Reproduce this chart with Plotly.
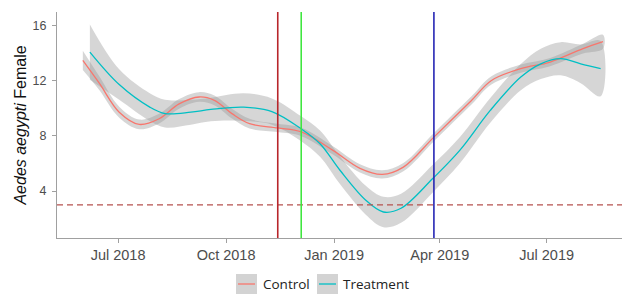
import plotly.graph_objects as go

# Control smooth curve
control_dates = ["2018-06-01", "2018-06-15", "2018-07-02", "2018-07-19", "2018-08-05",
                 "2018-08-22", "2018-09-08", "2018-09-21", "2018-10-06", "2018-10-21",
                 "2018-11-14", "2018-12-04", "2018-12-31", "2019-01-23", "2019-02-11",
                 "2019-03-01", "2019-03-27", "2019-04-28", "2019-05-15", "2019-06-09",
                 "2019-07-04", "2019-08-01", "2019-08-18"]
control_mean = [13.45, 11.8, 9.7, 8.82, 9.23, 10.3, 10.8, 10.56, 9.6, 8.87,
                8.56, 8.27, 6.94, 5.64, 5.2, 5.73, 7.9, 10.55, 12.0, 12.85,
                13.33, 14.3, 14.8]
control_se = [0.7, 0.5, 0.4, 0.35, 0.35, 0.35, 0.35, 0.35, 0.35, 0.35,
              0.3, 0.3, 0.3, 0.3, 0.3, 0.3, 0.3, 0.3, 0.3, 0.3,
              0.3, 0.35, 0.5]

# Treatment smooth curve
treatment_dates = ["2018-06-07", "2018-07-02", "2018-07-28", "2018-08-10", "2018-09-01",
                   "2018-09-18", "2018-10-16", "2018-11-09", "2018-12-04", "2018-12-20",
                   "2019-01-06", "2019-01-28", "2019-02-12", "2019-02-27", "2019-03-26",
                   "2019-04-18", "2019-05-14", "2019-06-09", "2019-06-26", "2019-07-13",
                   "2019-07-30", "2019-08-16"]
treatment_mean = [14.05, 11.7, 10.07, 9.6, 9.7, 9.9, 10.07, 9.75, 8.5, 7.42,
                  5.5, 3.33, 2.48, 2.75, 4.9, 6.94, 9.83, 12.24, 13.2, 13.57,
                  13.2, 12.85]
treatment_se = [2.0, 1.1, 1.0, 1.0, 0.9, 0.85, 1.0, 0.95, 0.9, 0.95,
                1.0, 1.05, 1.1, 1.05, 1.0, 0.95, 0.9, 0.95, 1.1, 1.2,
                1.4, 2.0]

threshold = 3
event_dates = ["2018-11-14", "2018-12-04", "2019-03-27"]
event_colors = ["#B8262B", "#3FE63F", "#2626B4"]

x_ticks = ["2018-07-01", "2018-10-01", "2019-01-01", "2019-04-01", "2019-07-01"]
x_tick_labels = ["Jul 2018", "Oct 2018", "Jan 2019", "Apr 2019", "Jul 2019"]
y_ticks = [4, 8, 12, 16]

series = [
    ("Control", control_dates, control_mean, control_se, "#F8766D"),
    ("Treatment", treatment_dates, treatment_mean, treatment_se, "#00BFC4"),
]

fig = go.Figure()
for name, d, m, s, c in series:
    upper = [a + b for a, b in zip(m, s)]
    lower = [a - b for a, b in zip(m, s)]
    fig.add_trace(go.Scatter(
        x=d + d[::-1], y=upper + lower[::-1], fill="toself",
        fillcolor="rgba(153,153,153,0.4)", line=dict(width=0, shape="spline"),
        mode="lines", hoverinfo="skip", showlegend=False))
for name, d, m, s, c in series:
    fig.add_trace(go.Scatter(
        x=d, y=m, mode="lines", name=name,
        line=dict(color=c, width=1.3, shape="spline"), showlegend=False))

fig.add_hline(y=threshold, line=dict(color="#B5524F", width=1.2, dash="6px,4px"))
for d, c in zip(event_dates, event_colors):
    fig.add_vline(x=d, line=dict(color=c, width=1.6))

# page offset (default body margin of the html page)
OFF = 8
W, H = 630 - OFF, 294 - OFF
L, R, T, B = 57 - OFF, 0, 12 - OFF, 294 - 238
pw, ph = W - L - R, H - T - B
def px(xp):
    return (xp - OFF - L) / pw
def py(yp):
    return (H - B - (yp - OFF)) / ph

# legend (ggplot style keys), page pixel positions
legend_items = [("Control", "#F8766D", 236, 261), ("Treatment", "#00BFC4", 317, 341)]
for label, c, bx, tx in legend_items:
    fig.add_shape(type="rect", xref="paper", yref="paper",
                  x0=px(bx), x1=px(bx + 21), y0=py(294), y1=py(274),
                  fillcolor="#D3D3D3", line=dict(width=0), layer="above")
    fig.add_shape(type="line", xref="paper", yref="paper",
                  x0=px(bx + 2), x1=px(bx + 19), y0=py(284), y1=py(284),
                  line=dict(color=c, width=1.3), layer="above")
    fig.add_annotation(text=label, xref="paper", yref="paper", x=px(tx), y=py(284),
                       xanchor="left", yanchor="middle", showarrow=False,
                       font=dict(family="Open Sans, sans-serif", size=13.5, color="#222222"))

fig.update_layout(
    width=W, height=H, margin=dict(l=L, r=R, t=T, b=B, autoexpand=False),
    plot_bgcolor="white", paper_bgcolor="white", showlegend=False,
    font=dict(family="Liberation Sans, Arial, sans-serif"),
)
fig.update_xaxes(range=["2018-05-10", "2019-09-10"], tickvals=x_ticks, ticktext=x_tick_labels,
                 showgrid=False, zeroline=False, showline=True, linecolor="#A0A0A0", linewidth=1,
                 ticks="outside", ticklen=4, tickcolor="#A0A0A0", automargin=False,
                 tickfont=dict(size=14.5, color="#4D4D4D"))
fig.update_yaxes(range=[0.6, 16.95], tickvals=y_ticks, showgrid=False, zeroline=False,
                 showline=True, linecolor="#A0A0A0", linewidth=1, automargin=False,
                 ticks="outside", ticklen=4, tickcolor="#A0A0A0", ticklabelstandoff=3,
                 tickfont=dict(size=12.5, color="#4D4D4D"),
                 title=dict(text="<i>Aedes aegypti</i> Female", font=dict(size=16, color="#111111"),
                            standoff=1))

fig.write_html("out.html")
